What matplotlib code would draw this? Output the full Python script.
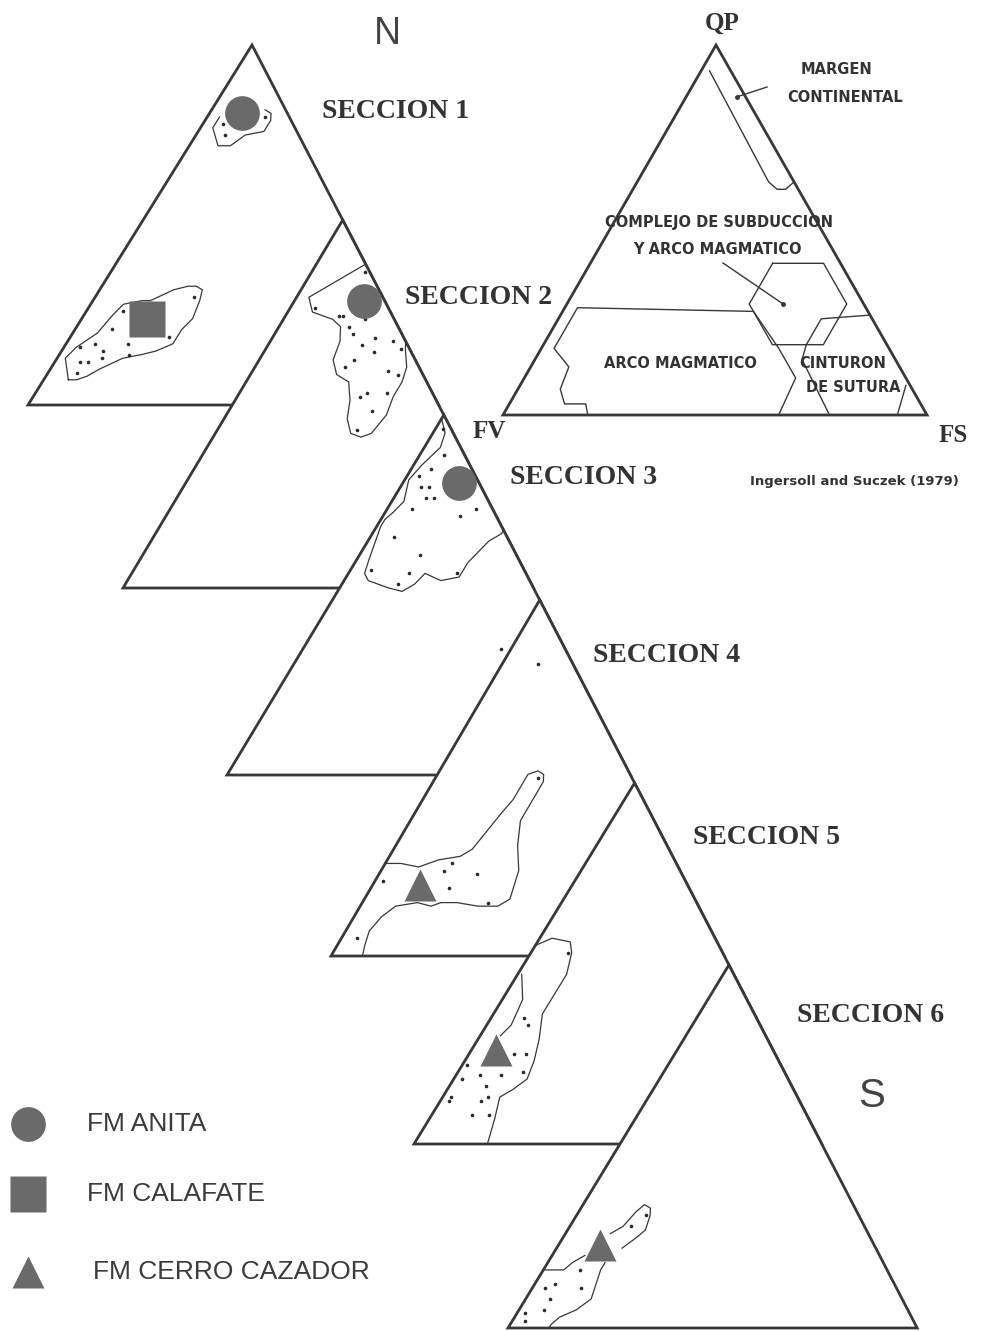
import matplotlib.pyplot as plt
import numpy as np

# Petrographic compositions.
# Every point is (FV %, FS %); QP is the rest up to 100 %.

# Seccion 1 - Fm Anita
sec1_anita_mean = (11, 8)
sec1_anita_field = [(17, 3), (20, 3), (21, 7), (18, 10), (13, 12), (8, 16), (5, 16), (4, 15), (5, 13)]
sec1_anita_pts = [(17, 5), (18, 7), (6, 14)]
# Seccion 1 - Fm Calafate
sec1_calafate_mean = (60, 16)
sec1_calafate_field = [(87, 6), (85, 2), (81, 3), (74, 6), (68, 7), (64, 8), (59, 12), (57, 14), (50, 18),
                       (46, 21), (44, 23), (43, 25), (45, 26), (49, 27), (53, 26), (57, 26), (62, 23),
                       (66, 20), (71, 16), (78, 12), (82, 10), (85, 8), (87, 6)]
sec1_calafate_pts = [(65, 9), (70, 9), (68, 15), (75, 10), (76, 7), (80, 4), (82, 6), (80, 8), (76, 11),
                     (69, 17), (84, 7), (46, 24), (57, 24)]

# Seccion 2 - Fm Anita
sec2_anita_mean = (5, 17)
sec2_anita_field = [(0, 12), (4, 10), (10, 7), (16, 4), (18, 3), (19, 6), (17, 9), (15, 12), (14, 15),
                    (16, 17), (20, 18), (21, 21), (19, 25), (21, 28), (24, 30), (25, 33), (23, 36),
                    (20, 38), (14, 39), (10, 38), (6, 38), (3, 37), (1, 34), (0, 33)]
sec2_anita_pts = [(1, 13), (18, 6), (13, 13), (12, 14), (12, 17), (12, 19), (7, 20), (7, 25), (11, 23),
                  (9, 27), (3, 30), (15, 23), (18, 22), (8, 33), (6, 36), (16, 31), (18, 30), (11, 36),
                  (17, 35), (23, 34), (2, 33)]

# Seccion 3 - Fm Anita
sec3_anita_mean = (5, 14)
sec3_anita_field = [(1, 0), (2, 3), (5, 4), (12, 2), (17, 1), (21, 3), (25, 2), (28, 1), (30, 1), (37, 3),
                    (40, 4), (40, 6), (36, 12), (33, 16), (29, 18), (25, 19), (22, 24), (17, 28),
                    (13, 28), (9, 29), (5, 30), (1, 32), (0, 32)]
sec3_anita_pts = [(2, 2), (5, 6), (10, 5), (14, 3), (15, 5), (13, 7), (15, 8), (13, 10), (20, 6), (9, 19),
                  (4, 22), (28, 6), (24, 15), (38, 5), (29, 15), (17, 27), (33, 14), (16, 49)]

# Seccion 4 - Fm Cerro Cazador
sec4_cazador_mean = (68, 12)
sec4_cazador_field = [(74, 0), (70, 4), (66, 9), (60, 13), (54, 18), (50, 20), (44, 21), (38, 22), (33, 23),
                      (26, 23), (23, 25), (22, 27), (23, 28), (28, 28), (30, 28), (34, 28), (38, 31),
                      (41, 35), (47, 37), (51, 35), (56, 30), (61, 24), (65, 20), (68, 18), (71, 14),
                      (77, 9), (82, 7), (87, 6), (90, 7), (92, 8)]
sec4_cazador_pts = [(60, 16), (57, 17), (52, 25), (61, 20), (53, 32), (24, 26), (77, 2), (91, 4), (9, 9)]

# Seccion 5 - Fm Cerro Cazador
sec5_cazador_mean = (68, 6)
sec5_cazador_field = [(45, 0), (40, 3), (36, 8), (37, 10), (41, 12), (46, 12), (52, 12), (56, 15), (60, 17),
                      (64, 18), (69, 16), (73, 14), (77, 16), (82, 18)]
sec5_cazador_link = [(52, 1), (55, 5), (61, 6), (65, 5)]
sec5_cazador_pts = [(57, 8), (57, 10), (64, 11), (61, 14), (64, 16), (75, 6), (70, 11), (80, 2), (75, 9),
                    (76, 11), (78, 10), (85, 2), (86, 2), (82, 10), (78, 14), (38, 9), (77, 1)]

# Seccion 6 - Fm Cerro Cazador
sec6_cazador_mean = (67, 10)
sec6_cazador_loop = [(63, 11), (59, 13), (54, 14), (51, 15), (50, 17), (51, 18), (54, 19), (57, 18), (62, 16)]
sec6_cazador_left = [(84, 0), (81, 3), (79, 5), (76, 6), (72, 8)]
sec6_cazador_right = [(68, 14), (70, 14), (73, 15), (76, 16), (81, 14), (86, 11), (89, 10), (90, 10)]
sec6_cazador_pts = [(52, 17), (57, 15), (75, 9), (83, 5), (86, 3), (77, 12), (86, 6), (89, 6), (94, 2), (95, 3)]

# Ingersoll and Suczek (1979) reference fields
qfl_margen = [(5, 2), (6, 31), (5, 34), (3, 36), (0, 37)]
qfl_hexagon = [(16, 43), (4, 55), (4, 66), (15, 66), (27, 54), (27, 43), (16, 43)]
qfl_arco = [(80, 20), (79, 18), (84, 13), (83, 10), (78, 9), (79, 3), (68, 3), (27, 45), (26, 56), (26, 64), (35, 65)]
qfl_sutura = [(0, 73), (12, 62), (19, 62), (22, 63), (23, 77)]
qfl_sutura_edge = [(1, 91), (7, 93)]
qfl_margen_tip = (2, 12)
qfl_complejo_tip = (19, 51)

legend_labels = ['FM ANITA', 'FM CALAFATE', 'FM CERRO CAZADOR']

# ---- layout, in figure pixels ----
W, H = 983, 1331
INK = '#383838'
GREY = '#6a6a6a'

# apex (QP), left corner (FV), right corner (FS) of each section triangle;
# all right sides lie on one straight line
SECTION_CORNERS = [
    [(252.0, 45), (28, 405), (438.6, 405)],
    [(342.7, 220), (123, 588), (533.5, 588)],
    [(443.8, 415), (227, 775), (630.4, 775)],
    [(539.7, 600), (331, 956), (724.3, 956)],
    [(634.6, 783), (414, 1144), (821.8, 1144)],
    [(728.9, 965), (508, 1328), (917.2, 1328)],
]
QFL_CORNERS = [(716, 45), (503, 415), (927, 415)]


def tern(corners, comp):
    # ternary (FV, FS) in % -> pixel position inside the given triangle
    a, l, r = (np.array(c, float) for c in corners)
    comp = np.atleast_2d(np.array(comp, float)) / 100.0
    fv, fs = comp[:, 0], comp[:, 1]
    qp = 1 - fv - fs
    pts = qp[:, None] * a + fv[:, None] * l + fs[:, None] * r
    return pts[:, 0], pts[:, 1]


fig = plt.figure(figsize=(W / 100, H / 100), dpi=100)
ax = fig.add_axes([0, 0, 1, 1])
ax.set_xlim(0, W)
ax.set_ylim(H, 0)
ax.axis('off')

MARKERS = {'anita': ('o', 25), 'calafate': ('s', 26), 'cazador': ('^', 23)}

sections = [
    dict(lines=[sec1_anita_field, sec1_calafate_field], dots=sec1_anita_pts + sec1_calafate_pts,
         means=[(sec1_anita_mean, 'anita'), (sec1_calafate_mean, 'calafate')]),
    dict(lines=[sec2_anita_field], dots=sec2_anita_pts, means=[(sec2_anita_mean, 'anita')]),
    dict(lines=[sec3_anita_field], dots=sec3_anita_pts, means=[(sec3_anita_mean, 'anita')]),
    dict(lines=[sec4_cazador_field], dots=sec4_cazador_pts, means=[(sec4_cazador_mean, 'cazador')]),
    dict(lines=[sec5_cazador_field, sec5_cazador_link], dots=sec5_cazador_pts,
         means=[(sec5_cazador_mean, 'cazador')]),
    dict(lines=[sec6_cazador_loop, sec6_cazador_left, sec6_cazador_right], dots=sec6_cazador_pts,
         means=[(sec6_cazador_mean, 'cazador')]),
]

# Each triangle is white and sits on top of the previous one
for k, sec in enumerate(sections):
    corners = SECTION_CORNERS[k]
    z = 2 + 6 * k
    ax.add_patch(plt.Polygon(corners, closed=True, facecolor='white', edgecolor=INK,
                             lw=2.0, joinstyle='miter', zorder=z))
    for line in sec['lines']:
        x, y = tern(corners, line)
        ax.plot(x, y, color=INK, lw=0.9, solid_joinstyle='round', zorder=z + 1)
    x, y = tern(corners, sec['dots'])
    ax.plot(x, y, 'o', ms=2.6, color='#2a2a2a', mec='none', zorder=z + 2)
    for comp, fm in sec['means']:
        m, size = MARKERS[fm]
        x, y = tern(corners, comp)
        ax.plot(x, y, m, ms=size, color=GREY, mec='none', zorder=z + 3)

serif = dict(fontfamily='Liberation Serif', fontweight='bold', color='#333333')
section_pos = [(322, 112), (405, 298), (510, 478), (593, 655), (693, 837), (797, 1015)]
for i, (sx, sy) in enumerate(section_pos):
    ax.text(sx, sy, f'SECCION {i + 1}', ha='left', va='center', fontsize=20, zorder=60, **serif)

ax.text(387, 34, 'N', ha='center', va='center', fontsize=27, fontfamily='Liberation Sans',
        color='#444444', zorder=60)
ax.text(872, 1096, 'S', ha='center', va='center', fontsize=29, fontfamily='Liberation Sans',
        color='#444444', zorder=60)

# ---- reference diagram (Ingersoll and Suczek, 1979) ----
ax.add_patch(plt.Polygon(QFL_CORNERS, closed=True, facecolor='none', edgecolor=INK,
                         lw=2.0, joinstyle='miter', zorder=50))
for line in [qfl_margen, qfl_hexagon, qfl_arco, qfl_sutura, qfl_sutura_edge]:
    x, y = tern(QFL_CORNERS, line)
    ax.plot(x, y, color=INK, lw=1.0, zorder=51)

ax.text(722, 23, 'QP', ha='center', va='center', fontsize=18, zorder=60, **serif)
ax.text(489, 431, 'FV', ha='center', va='center', fontsize=18, zorder=60, **serif)
ax.text(953, 435, 'FS', ha='center', va='center', fontsize=18, zorder=60, **serif)

small = dict(fontfamily='DejaVu Sans', fontweight='bold', fontsize=10.5, color='#333333',
             ha='center', va='center', zorder=60)
ax.text(837, 70, 'MARGEN', **small)
ax.text(845, 98, 'CONTINENTAL', **small)
ax.text(719, 222, 'COMPLEJO DE SUBDUCCION', **small)
ax.text(717, 249, 'Y ARCO MAGMATICO', **small)
ax.text(680, 363, 'ARCO MAGMATICO', **small)
ax.text(843, 363, 'CINTURON', **small)
ax.text(853, 388, 'DE SUTURA', **small)
ax.text(854, 481, 'Ingersoll and Suczek (1979)', fontfamily='DejaVu Sans', fontweight='bold',
        fontsize=9.5, color='#333333', ha='center', va='center', zorder=60)

# leader lines from the labels to their fields
for start, tip in [((767, 87), qfl_margen_tip), ((723, 263), qfl_complejo_tip)]:
    tx, ty = tern(QFL_CORNERS, tip)
    ax.plot([start[0], tx[0]], [start[1], ty[0]], color=INK, lw=1.0, zorder=52)
    ax.plot(tx, ty, 'o', ms=2.5, color=INK, zorder=52)

# ---- legend ----
legend_rows = [(1124, 'anita', 87), (1194, 'calafate', 87), (1272, 'cazador', 93)]
for (ly, fm, tx), label in zip(legend_rows, legend_labels):
    m, size = MARKERS[fm]
    ax.plot(28, ly, m, ms=size, color=GREY, mec='none', zorder=60)
    ax.text(tx, ly, label, ha='left', va='center', fontsize=19, fontfamily='Liberation Sans',
            color='#3c3c3c', zorder=60)

fig.savefig('out.png', dpi=100, facecolor='white')
